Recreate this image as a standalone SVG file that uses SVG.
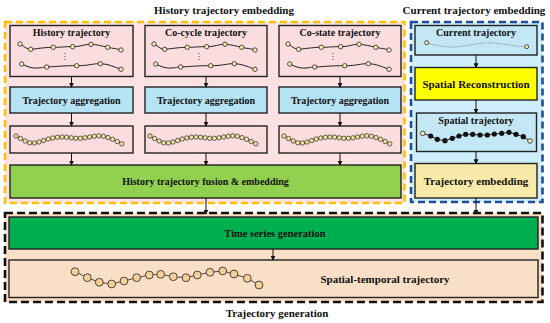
<svg xmlns="http://www.w3.org/2000/svg" xmlns:xlink="http://www.w3.org/1999/xlink" width="550" height="323" viewBox="0 0 550 323">
<style>
text{font-family:"Liberation Serif","Times New Roman",serif;font-weight:bold;fill:#111;text-anchor:middle}
.t10{font-size:10px}
.t105{font-size:10.5px}
.t11{font-size:11px}
.box{stroke:#222;stroke-width:1.4}
.pink{fill:#fbdde0}
.lblue{fill:#b5e3f3}
.conn{stroke:#111;stroke-width:1;fill:none;marker-end:url(#ah)}
.traj{fill:none;stroke:#222;stroke-width:1}
.pt{fill:#fdf0b5;stroke:#222;stroke-width:0.8}
.cp{fill:#f6e3a3;stroke:#222;stroke-width:0.7}
</style>
<defs>
<marker id="ah" viewBox="0 0 8 8" refX="7" refY="4" markerWidth="5" markerHeight="5" orient="auto" markerUnits="userSpaceOnUse">
<path d="M0,0 L8,4 L0,8 z" fill="#111"/>
</marker>
<g id="tr2">
<path class="traj" d="M10,19 C15,22 17,24.5 21,24.3 S34,22.3 43.3,22.3 S55,21.5 62.7,21.7 S75,19 81,19.3 S92,21 97.7,22.3 S106,23.5 111,25"/>
<path class="traj" d="M11.7,39 C18,42 22,43.5 28,43 S33,42 36.7,42 S55,40.5 66.7,40.7 S82,38.5 90.3,38.7 S103,41.5 111,44.3"/>
<circle class="pt" cx="10" cy="19" r="2.2"/><circle class="pt" cx="20.7" cy="24.3" r="2.2"/><circle class="pt" cx="43.3" cy="22.3" r="2.2"/><circle class="pt" cx="62.7" cy="21.7" r="2.2"/><circle class="pt" cx="81" cy="19.3" r="2.2"/><circle class="pt" cx="97.7" cy="22.3" r="2.2"/><circle class="pt" cx="111" cy="25" r="2.2"/>
<circle class="pt" cx="11.7" cy="39" r="2.2"/><circle class="pt" cx="36.7" cy="42" r="2.2"/><circle class="pt" cx="66.7" cy="40.7" r="2.2"/><circle class="pt" cx="90.3" cy="38.7" r="2.2"/><circle class="pt" cx="111" cy="44.3" r="2.2"/>
<circle cx="55" cy="28.5" r="0.6" fill="#333"/><circle cx="55" cy="31.5" r="0.6" fill="#333"/><circle cx="55" cy="34.5" r="0.6" fill="#333"/>
</g>
<g id="chain">
<polyline fill="none" stroke="#222" stroke-width="0.7" points="6,10 10.6,12.5 15.2,15 19.8,16.8 24.4,17 29,16 33.6,14.5 38.2,13 42.8,12 47.4,11.3 52,11 56.6,11.2 61.2,11.8 65.8,12.3 70.4,12.3 75,11.8 79.6,11 84.2,10.2 88.8,9.8 93.4,10.3 98,11.6 102.6,13.3 107.2,15.5 111.8,17.8"/>
<circle class="cp" cx="6" cy="10" r="2.2"/><circle class="cp" cx="10.6" cy="12.5" r="2.2"/><circle class="cp" cx="15.2" cy="15" r="2.2"/><circle class="cp" cx="19.8" cy="16.8" r="2.2"/><circle class="cp" cx="24.4" cy="17" r="2.2"/><circle class="cp" cx="29" cy="16" r="2.2"/><circle class="cp" cx="33.6" cy="14.5" r="2.2"/><circle class="cp" cx="38.2" cy="13" r="2.2"/><circle class="cp" cx="42.8" cy="12" r="2.2"/><circle class="cp" cx="47.4" cy="11.3" r="2.2"/><circle class="cp" cx="52" cy="11" r="2.2"/><circle class="cp" cx="56.6" cy="11.2" r="2.2"/><circle class="cp" cx="61.2" cy="11.8" r="2.2"/><circle class="cp" cx="65.8" cy="12.3" r="2.2"/><circle class="cp" cx="70.4" cy="12.3" r="2.2"/><circle class="cp" cx="75" cy="11.8" r="2.2"/><circle class="cp" cx="79.6" cy="11" r="2.2"/><circle class="cp" cx="84.2" cy="10.2" r="2.2"/><circle class="cp" cx="88.8" cy="9.8" r="2.2"/><circle class="cp" cx="93.4" cy="10.3" r="2.2"/><circle class="cp" cx="98" cy="11.6" r="2.2"/><circle class="cp" cx="102.6" cy="13.3" r="2.2"/><circle class="cp" cx="107.2" cy="15.5" r="2.2"/><circle class="cp" cx="111.8" cy="17.8" r="2.2"/>
</g>
</defs>
<rect width="550" height="323" fill="#fff"/>

<g id="history-embedding">
<rect x="5" y="22" width="399.5" height="181" fill="#fde2e3" stroke="#ffc000" stroke-width="2.6" stroke-dasharray="7,4"/>
<text class="t11" x="224" y="14">History trajectory embedding</text>
</g>
<g id="current-embedding">
<rect x="411" y="22" width="131.5" height="180" fill="#cdeefa" stroke="#1f4e9c" stroke-width="2.6" stroke-dasharray="7,4"/>
<text class="t11" x="474" y="14">Current trajectory embedding</text>
</g>
<g id="trajectory-generation">
<rect x="5" y="213" width="537.5" height="89" fill="#f9dfc6" stroke="#111" stroke-width="2.6" stroke-dasharray="8,4"/>
<text class="t11" x="277" y="317">Trajectory generation</text>
</g>

<g id="history-trajectory">
<rect class="box pink" x="10" y="25.5" width="123" height="51"/>
<text class="t10" x="71.5" y="35.5">History trajectory</text>
<use xlink:href="#tr2" href="#tr2" transform="translate(10,25)"/>
</g>
<g id="cocycle-trajectory">
<rect class="box pink" x="145" y="25.5" width="122" height="51"/>
<text class="t10" x="206" y="35.5">Co-cycle trajectory</text>
<use xlink:href="#tr2" href="#tr2" transform="translate(144,25)"/>
</g>
<g id="costate-trajectory">
<rect class="box pink" x="279" y="25.5" width="122" height="51"/>
<text class="t10" x="340" y="35.5">Co-state trajectory</text>
<use xlink:href="#tr2" href="#tr2" transform="translate(278,25)"/>
</g>

<g id="agg1"><rect class="box lblue" x="10" y="87" width="123" height="26"/><text class="t10" x="71.5" y="103.5">Trajectory aggregation</text></g>
<g id="agg2"><rect class="box lblue" x="145" y="87" width="122" height="26"/><text class="t10" x="206" y="103.5">Trajectory aggregation</text></g>
<g id="agg3"><rect class="box lblue" x="279" y="87" width="122" height="26"/><text class="t10" x="340" y="103.5">Trajectory aggregation</text></g>

<g id="chain1"><rect class="box pink" x="10" y="126" width="123" height="27"/><use xlink:href="#chain" href="#chain" transform="translate(10,126)"/></g>
<g id="chain2"><rect class="box pink" x="145" y="126" width="122" height="27"/><use xlink:href="#chain" href="#chain" transform="translate(144,126)"/></g>
<g id="chain3"><rect class="box pink" x="279" y="126" width="122" height="27"/><use xlink:href="#chain" href="#chain" transform="translate(278,126)"/></g>

<g id="fusion">
<rect class="box" x="10" y="165" width="391" height="33" fill="#92d050"/>
<text class="t10" x="205.5" y="185">History trajectory fusion &amp; embedding</text>
</g>

<g id="current-trajectory">
<rect class="box" x="415" y="25.5" width="122" height="29.5" fill="#c3e7f5"/>
<text class="t10" x="476" y="35.5">Current trajectory</text>
<path d="M426.7,42.7 C438,46 448,48 460,46.5 S482,42 494,43 S515,46.5 526.7,46.7" fill="none" stroke="#777" stroke-width="0.8" stroke-dasharray="1,1"/>
<circle class="pt" cx="426.7" cy="42.7" r="2"/><circle class="pt" cx="526.7" cy="46.7" r="2"/>
</g>
<g id="spatial-reconstruction">
<rect class="box" x="415" y="67.5" width="122" height="32.5" fill="#ffff00"/>
<text class="t11" x="476" y="88">Spatial Reconstruction</text>
</g>
<g id="spatial-trajectory">
<rect class="box" x="416.5" y="113" width="120" height="38.5" fill="#c3e7f5"/>
<text class="t10" x="476" y="123.5">Spatial trajectory</text>
<polyline fill="none" stroke="#111" stroke-width="0.9" points="422.7,133.3 430.7,136 437.3,139.3 445,140.7 452.3,138.3 459,136 465.7,134.3 472.7,134.3 480,135 487.3,135 494.3,134 501.7,133.3 509,132.3 516,134.3 523.3,136.7 530,141"/>
<circle class="pt" cx="422.7" cy="133.3" r="2.3"/>
<g fill="#111">
<circle cx="430.7" cy="136" r="2.6"/><circle cx="437.3" cy="139.3" r="2.6"/><circle cx="445" cy="140.7" r="2.6"/><circle cx="452.3" cy="138.3" r="2.6"/><circle cx="459" cy="136" r="2.6"/><circle cx="465.7" cy="134.3" r="2.6"/><circle cx="472.7" cy="134.3" r="2.6"/><circle cx="480" cy="135" r="2.6"/><circle cx="487.3" cy="135" r="2.6"/><circle cx="494.3" cy="134" r="2.6"/><circle cx="501.7" cy="133.3" r="2.6"/><circle cx="509" cy="132.3" r="2.6"/><circle cx="516" cy="134.3" r="2.6"/><circle cx="523.3" cy="136.7" r="2.6"/>
</g>
<circle class="pt" cx="530" cy="141" r="2.3"/>
</g>
<g id="trajectory-embedding">
<rect class="box" x="415" y="163.5" width="122" height="34.5" fill="#f8eaa8"/>
<text class="t11" x="476" y="185">Trajectory embedding</text>
</g>

<g id="time-series">
<rect class="box" x="9" y="217" width="529" height="32" fill="#00b050"/>
<text class="t105" x="275" y="236.5">Time series generation</text>
</g>
<g id="spatial-temporal">
<rect class="box" x="9" y="260" width="529" height="37.5" fill="#f9dfc6"/>
<text class="t11" x="385" y="283">Spatial-temporal trajectory</text>
<polyline fill="none" stroke="#222" stroke-width="0.8" points="75,271.7 87.3,277.7 99.3,282.3 111.7,284 124,281 136.7,277.7 149.3,275 160.7,274.3 173.3,276.7 186,277.7 197.3,275 210,272.3 222.7,271 234,274 247.3,278.3 259,285"/>
<g fill="#f5cf98" stroke="#222" stroke-width="0.8">
<circle cx="75" cy="271.7" r="3.9"/><circle cx="87.3" cy="277.7" r="3.9"/><circle cx="99.3" cy="282.3" r="3.9"/><circle cx="111.7" cy="284" r="3.9"/><circle cx="124" cy="281" r="3.9"/><circle cx="136.7" cy="277.7" r="3.9"/><circle cx="149.3" cy="275" r="3.9"/><circle cx="160.7" cy="274.3" r="3.9"/><circle cx="173.3" cy="276.7" r="3.9"/><circle cx="186" cy="277.7" r="3.9"/><circle cx="197.3" cy="275" r="3.9"/><circle cx="210" cy="272.3" r="3.9"/><circle cx="222.7" cy="271" r="3.9"/><circle cx="234" cy="274" r="3.9"/><circle cx="247.3" cy="278.3" r="3.9"/><circle cx="259" cy="285" r="3.9"/>
</g>
</g>

<g id="connectors">
<line class="conn" x1="71.5" y1="76.5" x2="71.5" y2="87"/>
<line class="conn" x1="206" y1="76.5" x2="206" y2="87"/>
<line class="conn" x1="340" y1="76.5" x2="340" y2="87"/>
<line class="conn" x1="71.5" y1="113" x2="71.5" y2="126"/>
<line class="conn" x1="206" y1="113" x2="206" y2="126"/>
<line class="conn" x1="340" y1="113" x2="340" y2="126"/>
<line class="conn" x1="71.5" y1="153" x2="71.5" y2="165"/>
<line class="conn" x1="206" y1="153" x2="206" y2="165"/>
<line class="conn" x1="340" y1="153" x2="340" y2="165"/>
<line class="conn" x1="476" y1="55" x2="476" y2="67.5"/>
<line class="conn" x1="476" y1="100" x2="476" y2="113"/>
<line class="conn" x1="476" y1="151.5" x2="476" y2="163.5"/>
<line class="conn" x1="206" y1="198" x2="206" y2="214"/>
<line class="conn" x1="476" y1="198" x2="476" y2="214"/>
<line class="conn" x1="273" y1="249" x2="273" y2="260"/>
</g>
</svg>
